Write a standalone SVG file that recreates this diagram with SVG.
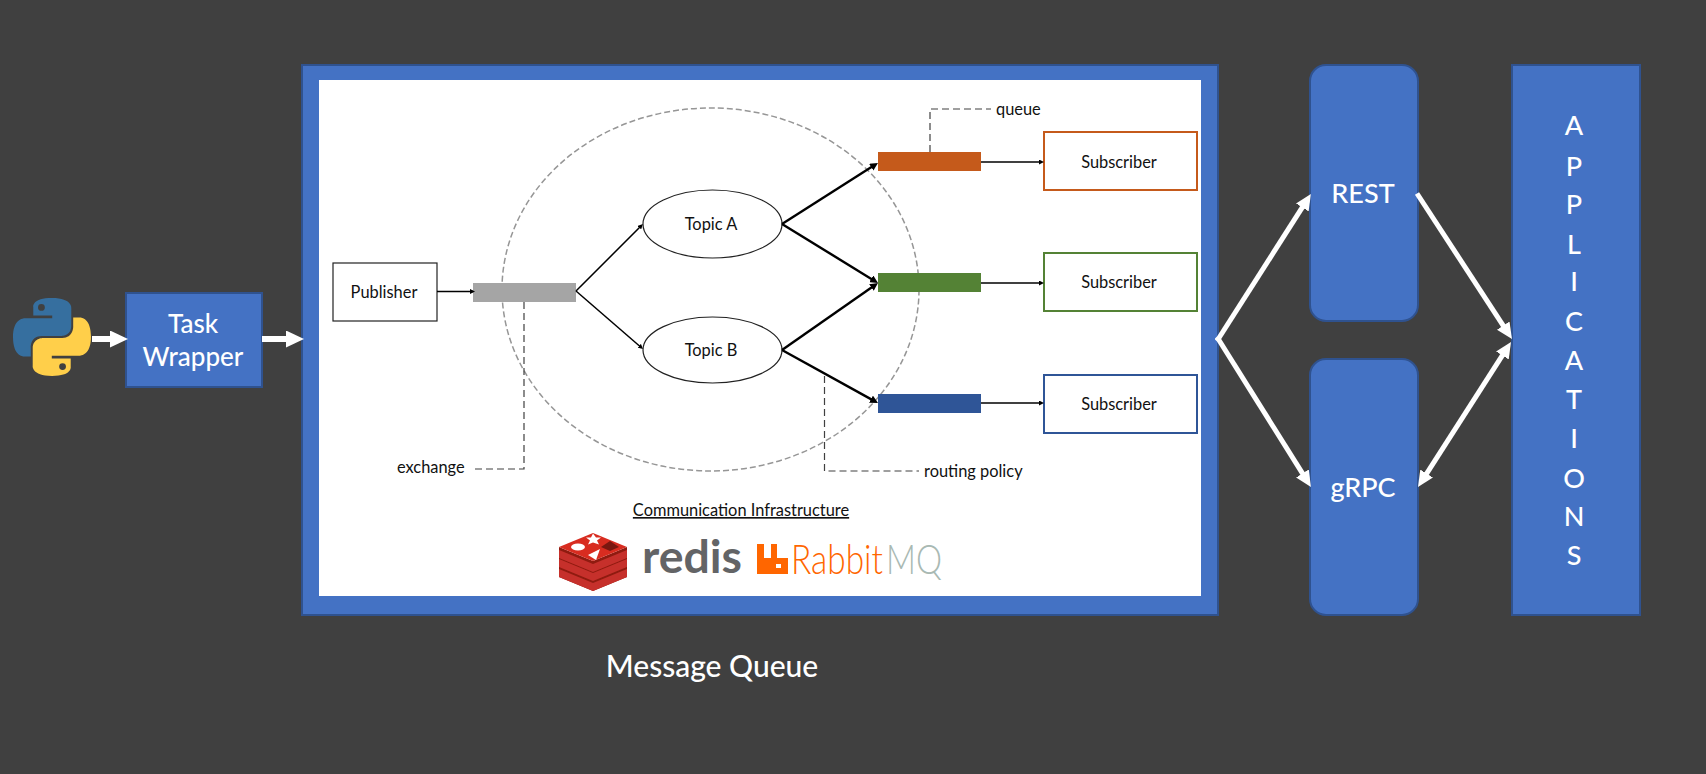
<svg xmlns="http://www.w3.org/2000/svg" width="1706" height="774" viewBox="0 0 1706 774">
<style>
text{font-family:Lato,"Liberation Sans",sans-serif;}
.b{fill:#4472c4;stroke:#2f528f;stroke-width:2;}
.w{fill:#fff;text-anchor:middle;font-size:27px;font-weight:500;}
.k{fill:#111;font-size:16.4px;}
.km{text-anchor:middle;}
.n{fill:#fff;stroke:#222;stroke-width:1.2;}
.s{fill:#fff;stroke-width:2;}
.dash{fill:none;stroke:#404040;stroke-width:1.2;stroke-dasharray:7 4;}
.wl{fill:none;stroke:#fff;stroke-width:5;}
.bl{fill:none;stroke:#000;}
</style>
<defs>
<marker id="hw1" markerUnits="userSpaceOnUse" markerWidth="18" markerHeight="17" refX="8" refY="8.5" orient="auto"><path d="M0 0L18 8.5L0 17Z" fill="#fff"/></marker>
<marker id="hw2" markerUnits="userSpaceOnUse" markerWidth="16" markerHeight="15" refX="8" refY="7.5" orient="auto-start-reverse"><path d="M0 0L16 7.5L0 15Z" fill="#fff"/></marker>
<marker id="hs" markerUnits="userSpaceOnUse" markerWidth="5" markerHeight="5" refX="3" refY="2.5" orient="auto"><path d="M0 0L5 2.5L0 5Z" fill="#000"/></marker>
<marker id="hl" markerUnits="userSpaceOnUse" markerWidth="8" markerHeight="8" refX="4" refY="4" orient="auto"><path d="M0 0L8 4L0 8Z" fill="#000"/></marker>
<g id="rl"><path d="M559 547V558L593 572L627 558V547L593 561Z" fill="#8f1b10"/><path d="M559 550L593 564L627 550V558L593 572L559 558Z" fill="#c6302b"/></g>
</defs>
<rect width="1706" height="774" fill="#404040"/>

<g id="python">
<g transform="translate(13,298) scale(0.709)">
<path fill="#366f9f" fill-rule="evenodd" d="M54.9 0C26.9 0 28.6 12.2 28.6 12.2V24.8H55.3V28.6H18C18 28.6 0 26.5 0 55C0 83.5 15.7 82.5 15.7 82.5H25.1V69.3C25.1 69.3 24.6 53.6 40.6 53.6H67.2C67.2 53.6 82.2 53.8 82.2 39.1V14.7C82.2 14.7 84.5 0 54.9 0ZM40.1 8.5A4.8 4.8 0 1 1 40.1 18.1A4.8 4.8 0 1 1 40.1 8.5Z"/>
<path fill="#ffcf4a" fill-rule="evenodd" transform="rotate(180 55 55)" d="M54.9 0C26.9 0 28.6 12.2 28.6 12.2V24.8H55.3V28.6H18C18 28.6 0 26.5 0 55C0 83.5 15.7 82.5 15.7 82.5H25.1V69.3C25.1 69.3 24.6 53.6 40.6 53.6H67.2C67.2 53.6 82.2 53.8 82.2 39.1V14.7C82.2 14.7 84.5 0 54.9 0ZM40.1 8.5A4.8 4.8 0 1 1 40.1 18.1A4.8 4.8 0 1 1 40.1 8.5Z"/>
</g>
</g>

<g id="task-wrapper">
<rect class="b" x="126" y="293" width="136" height="94"/>
<text class="w" x="193" y="333" style="font-size:26px">Task</text>
<text class="w" x="193" y="366" style="font-size:26px">Wrapper</text>
</g>

<g id="message-queue">
<rect class="b" x="302" y="65" width="916" height="550"/>
<rect x="319" y="80" width="882" height="516" fill="#fff"/>
</g>

<g id="scope"><ellipse cx="710.5" cy="289.5" rx="208.5" ry="181.5" fill="none" stroke="#969696" stroke-width="1.5" stroke-dasharray="6 3"/></g>

<g id="publisher">
<rect class="n" x="333" y="263" width="104" height="58"/>
<text class="k km" x="384" y="298">Publisher</text>
</g>
<g id="exchange"><rect x="473" y="283" width="103" height="19" fill="#a5a5a5"/></g>
<g id="topic-a">
<ellipse class="n" cx="712.5" cy="224" rx="69.5" ry="34"/>
<text class="k km" x="711" y="230">Topic A</text>
</g>
<g id="topic-b">
<ellipse class="n" cx="712.5" cy="350" rx="69.5" ry="33"/>
<text class="k km" x="711" y="356">Topic B</text>
</g>
<g id="queue-orange"><rect x="878" y="152" width="103" height="19" fill="#c55a1b"/></g>
<g id="queue-green"><rect x="878" y="273" width="103" height="19" fill="#548235"/></g>
<g id="queue-blue"><rect x="878" y="394" width="103" height="19" fill="#2f5597"/></g>
<g id="subscriber-1">
<rect class="s" x="1044" y="132" width="153" height="58" stroke="#c55a1b"/>
<text class="k km" x="1119" y="168">Subscriber</text>
</g>
<g id="subscriber-2">
<rect class="s" x="1044" y="253" width="153" height="58" stroke="#548235"/>
<text class="k km" x="1119" y="288">Subscriber</text>
</g>
<g id="subscriber-3">
<rect class="s" x="1044" y="375" width="153" height="58" stroke="#2f5597"/>
<text class="k km" x="1119" y="410">Subscriber</text>
</g>

<g id="rest">
<rect class="b" x="1310" y="65" width="108" height="256" rx="16" ry="16"/>
<text class="w" x="1363" y="203">REST</text>
</g>
<g id="grpc">
<rect class="b" x="1310" y="359" width="108" height="256" rx="16" ry="16"/>
<text class="w" x="1363" y="497">gRPC</text>
</g>
<g id="applications">
<rect class="b" x="1512" y="65" width="128" height="550"/>
<text class="w" x="1574" y="135">A</text>
<text class="w" x="1574" y="176">P</text>
<text class="w" x="1574" y="214">P</text>
<text class="w" x="1574" y="254">L</text>
<text class="w" x="1574" y="291">I</text>
<text class="w" x="1574" y="331">C</text>
<text class="w" x="1574" y="370">A</text>
<text class="w" x="1574" y="409">T</text>
<text class="w" x="1574" y="448">I</text>
<text class="w" x="1574" y="488">O</text>
<text class="w" x="1574" y="526">N</text>
<text class="w" x="1574" y="565">S</text>
</g>

<g id="connectors">
<path class="bl" stroke-width="1.5" d="M437 291.5H473" marker-end="url(#hs)"/>
<path class="bl" stroke-width="1.5" d="M576 291L641.5 225.5" marker-end="url(#hs)"/>
<path class="bl" stroke-width="1.5" d="M576 291L641.5 347.7" marker-end="url(#hs)"/>
<path class="bl" stroke-width="2.4" d="M782 224L874.6 165.1" marker-end="url(#hl)"/>
<path class="bl" stroke-width="2.4" d="M782 224L874.6 280.9" marker-end="url(#hl)"/>
<path class="bl" stroke-width="2.4" d="M782 350L874.7 285.3" marker-end="url(#hl)"/>
<path class="bl" stroke-width="2.4" d="M782 350L874.5 401.1" marker-end="url(#hl)"/>
<path class="bl" stroke-width="1.5" d="M981 162H1042" marker-end="url(#hs)"/>
<path class="bl" stroke-width="1.5" d="M981 283H1042" marker-end="url(#hs)"/>
<path class="bl" stroke-width="1.5" d="M981 403H1042" marker-end="url(#hs)"/>
<path class="dash" d="M524 302V469H473"/>
<path class="dash" d="M930 152V109H991"/>
<path class="dash" d="M824.5 376V471H919"/>
<path class="wl" style="stroke-width:6" d="M92 339H118" marker-end="url(#hw1)"/>
<path class="wl" style="stroke-width:6" d="M262 339H294" marker-end="url(#hw1)"/>
<path class="wl" d="M1217 341L1306.6 200.7" marker-end="url(#hw2)"/>
<path class="wl" d="M1217 337L1306.7 480.2" marker-end="url(#hw2)"/>
<path class="wl" d="M1417 193.5L1507.6 332.3" marker-end="url(#hw2)"/>
<path class="wl" d="M1422.3 480.3L1506.7 348.7" marker-start="url(#hw2)" marker-end="url(#hw2)"/>
</g>

<g id="labels">
<text class="k" x="397" y="473">exchange</text>
<text class="k" x="996" y="115">queue</text>
<text class="k" x="924" y="477">routing policy</text>
<text class="k km" x="741" y="516" text-decoration="underline">Communication Infrastructure</text>
<text class="w" x="712" y="677" style="font-size:30px">Message Queue</text>
</g>

<g id="redis-logo">
<use href="#rl" y="19"/>
<use href="#rl" y="9"/>
<use href="#rl"/>
<path d="M593 533L627 547L593 561L559 547Z" fill="#d82c20"/>
<path d="M593 533L596 537L601 537L597 540L599 544L593 542L588 544L590 540L586 537L591 537Z" fill="#fff" transform="translate(0,0.5)"/>
<ellipse cx="578" cy="547" rx="7" ry="3.5" fill="#fff"/>
<path d="M600 550L588 556L596 561Z" fill="#fff" transform="translate(0,-1)"/>
<path d="M610 541L619 547L610 551L601 547Z" fill="#7a1710"/>
<text x="642" y="573" font-size="46" font-weight="700" fill="#636466" textLength="100" lengthAdjust="spacingAndGlyphs">redis</text>
</g>
<g id="rabbitmq-logo">
<path fill="#f60" fill-rule="evenodd" d="M757 544H764V558H771V544H777V558H788V574H757ZM776 564V568H781V564Z"/>
<text x="791" y="574" font-size="42" font-weight="300" fill="#f60" textLength="92" lengthAdjust="spacingAndGlyphs">Rabbit</text>
<text x="886" y="574" font-size="42" font-weight="300" fill="#a9b9b3" textLength="56" lengthAdjust="spacingAndGlyphs">MQ</text>
</g>
</svg>
